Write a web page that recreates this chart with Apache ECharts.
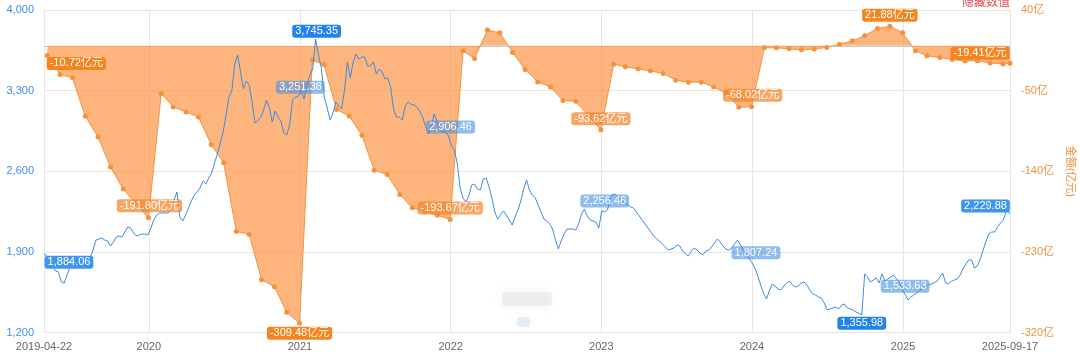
<!DOCTYPE html>
<html><head><meta charset="utf-8">
<script src="https://cdn.jsdelivr.net/npm/echarts@6/dist/echarts.min.js"></script>
<style>html,body{margin:0;padding:0;background:#fff}#c{width:1080px;height:356px}</style>
</head><body><div id="c"></div>
<script>
// ---------- data ----------
const xStart = '2019-04-22';
const xEnd = '2025-09-17';
const leftTicks = [1200, 1900, 2600, 3300, 4000];
const rightTicks = [-320, -230, -140, -50, 40];

// index (blue line), weekly closes starting at xStart
const blueWeeklyStart = '2019-04-22';
const blueValues = [
1884.06,1865,1831,1787,1735,1727,1640,1631,1701,1770,
1787,1796,1814,1822,1831,1848,1857,1917,2004,2013,
2022,2004,1996,1952,1987,2030,2039,2030,2074,2117,
2108,2065,2039,2048,2056,2056,2048,2108,2178,2221,
2239,2239,2239,2239,2291,2351,2421,2204,2169,2221,
2282,2343,2395,2421,2456,2516,2490,2542,2586,2672,
2751,2846,2941,3089,3245,3297,3531,3610,3462,3315,
3384,3349,3202,3019,3037,3071,3132,3219,3150,3028,
3124,3071,3037,2933,2915,3002,3219,3245,3251.38,3297,
3228,3349,3436,3490,3745.35,3610,3492,3245,3150,3045,
3106,3202,3167,3141,3306,3549,3410,3549,3618,3575,
3592,3592,3514,3514,3549,3445,3488,3462,3401,3410,
3323,3132,3071,3071,3045,3167,3202,3184,3176,3158,
3124,3071,2993,2924,2976,3098,3037,2959,2941,2941,
2906.46,2820,2785,2672,2456,2369,2334,2386,2481,2490,
2447,2438,2534,2542,2464,2369,2247,2186,2221,2256,
2221,2178,2134,2204,2265,2343,2447,2525,2438,2395,
2369,2308,2247,2186,2169,2143,2100,2004,1927,1996,
2057,2100,2100,2100,2091,2143,2230,2273,2213,2178,
2169,2160,2108,2256.46,2247,2265,2369,2404,2395,2369,
2343,2326,2308,2291,2282,2247,2213,2178,2143,2108,
2074,2039,2013,1996,1970,1944,1917,1926,1935,1961,
1952,1909,1883,1866,1909,1935,1917,1891,1874,1909,
1917,1944,1978,2013,1987,1952,1926,1917,1935,1970,
2004,1961,1917,1883,1848,1807.24,1761,1692,1614,1544,
1492,1562,1622,1605,1578,1570,1605,1631,1648,1614,
1596,1605,1631,1640,1614,1570,1536,1527,1510,1501,
1458,1397,1406,1414,1423,1406,1440,1449,1414,1406,
1397,1380,1368,1355.98,1710,1680,1640,1657,1674,1631,
1709,1648,1666,1683,1700,1666,1640,1570,1533.63,1484,
1510,1527,1544,1570,1579,1596,1614,1622,1631,1648,
1683,1718,1631,1622,1648,1657,1666,1700,1752,1796,
1831,1831,1761,1779,1840,1917,1996,2057,2074,2074,
2117,2152,2178,2256,2243
];
const blueFinalDate = '2025-09-17';
const blueFinalValue = 2229.88;

// cumulative net flow (亿元), month-end values starting 2019-04
const orangeStartMonth = '2019-04';
const orangeMonthEndValues = [
-10.72,-31.9,-35.7,-78.5,-101.7,-135.2,-159.8,-176.0,-191.80,
-53.1,-68.1,-73.7,-79.3,-110.2,-130.3,-207.1,-210.4,-260.8,-268.6,-297.3,-309.48,
-15.9,-20.7,-71.0,-78.2,-99.8,-138.9,-143.4,-165.7,-180.6,-185.0,-189.0,-193.67,
-5.5,-14.0,17.6,14.6,-7.3,-26.3,-40.2,-45.8,-61.0,-61.8,-78.0,-93.62,
-20.4,-23.4,-25.6,-27.9,-30.8,-38.3,-40.5,-40.5,-45.8,-53.0,-68.5,-68.02,
-2.2,-2.2,-3.3,-4.4,-3.6,-1.7,1.7,5.7,11.3,19.5,21.88,14.6,
-5.5,-11.1,-12.9,-15.1,-17.0,-16.7,-19.0,-20.2
];
const orangeFinalDate = '2025-09-17';
const orangeFinalValue = -19.41;

const blueLabelValues = [1884.06, 3251.38, 3745.35, 2906.46, 2256.46, 1807.24, 1355.98, 1533.63, 2229.88];
const orangeLabelValues = [-10.72, -191.80, -309.48, -193.67, -93.62, -68.02, 21.88, -19.41];

// ---------- label layout (styles / offsets, not data) ----------
const blueLabelLayout = [
  {kind:'edge', off:[25,8.5]}, {kind:'light', off:[2,-9]}, {kind:'solid', off:[1,-8]},
  {kind:'light', off:[2,-9]}, {kind:'light', off:[3,-10]}, {kind:'light', off:[4,-10]},
  {kind:'solid', off:[0,8.5]}, {kind:'light', off:[0,-8]}, {kind:'edge', off:[-24.5,-8]}
];
const orangeLabelLayout = [
  {kind:'solid', off:[29,8]}, {kind:'light', off:[1,-12]}, {kind:'solid', off:[0,10]},
  {kind:'light', off:[0,-11.5]}, {kind:'light', off:[0,-11]}, {kind:'light', off:[1,-11.5]},
  {kind:'solid', off:[0,-11]}, {kind:'solid', off:[-30,-10]}
];
const blueBg = {solid:'#2283ec', edge:'#3f95f2', light:'rgba(70,145,230,0.6)'};
const orangeBg = {solid:'#f5861f', light:'rgba(244,138,50,0.75)'};

// ---------- build ----------
function parseD(s){const p=s.split('-').map(Number);return new Date(p[0],p[1]-1,p[2]||1);}
const bs = parseD(blueWeeklyStart);
const blueData = blueValues.map((v,i)=>[new Date(bs.getFullYear(),bs.getMonth(),bs.getDate()+7*i).getTime(), v]);
blueData.push([parseD(blueFinalDate).getTime(), blueFinalValue]);
const om = parseD(orangeStartMonth);
const orangeData = orangeMonthEndValues.map((v,k)=>[new Date(om.getFullYear(), om.getMonth()+k+1, 0).getTime(), v]);
orangeData.push([parseD(orangeFinalDate).getTime(), orangeFinalValue]);

const FONT = '"Liberation Sans", Arial, "Noto Sans CJK SC", sans-serif';
const fmtBlue = v => v.toLocaleString('en-US',{minimumFractionDigits:2, maximumFractionDigits:2});
const fmtOrange = v => v.toFixed(2) + '亿元';

function marks(data, values, layout, bgs, fmt){
  return values.map((val,j)=>{
    const pt = data.find(d=>d[1]===val);
    const L = layout[j];
    return {coord: pt, value: val, symbol:'circle', symbolSize:0,
      label:{show:true, position:'inside', offset:L.off, formatter: ()=>fmt(val),
        backgroundColor:bgs[L.kind], color:'#fff', borderRadius:3, padding:[1,3,0,3],
        fontSize:11, lineHeight:12, fontFamily:FONT}};
  });
}

const xMin = parseD(xStart).getTime(), xMax = parseD(xEnd).getTime();
function pad(n){return n<10?'0'+n:''+n;}
const YEAR = 365*24*3600*1000;

const chart = echarts.init(document.getElementById('c'), null, {renderer:'canvas'});
chart.setOption({
  animation:false,
  backgroundColor:'#fff',
  grid:{left:44, right:70, top:10, bottom:23.3, containLabel:false, outerBoundsMode:'none'},
  xAxis:{type:'time', min:xMin, max:xMax, splitNumber:7, minInterval:YEAR, maxInterval:YEAR+2*86400000,
    axisLine:{show:true, lineStyle:{color:'#cccccc'}}, axisTick:{show:false},
    splitLine:{show:true, lineStyle:{color:'#e6e6e6'}},
    axisLabel:{color:'#666', fontSize:11, fontFamily:FONT, margin:9, showMinLabel:true, showMaxLabel:true, hideOverlap:false,
      formatter:function(v){const d=new Date(v);
        if (Math.abs(v-xMin)<43200000 || Math.abs(v-xMax)<43200000) return d.getFullYear()+'-'+pad(d.getMonth()+1)+'-'+pad(d.getDate());
        if (d.getMonth()===0 && d.getDate()===1) return ''+d.getFullYear();
        return '';}}
  },
  yAxis:[
    {type:'value', min:leftTicks[0], max:leftTicks[leftTicks.length-1], interval:leftTicks[1]-leftTicks[0], position:'left',
      axisLine:{show:false}, axisTick:{show:false},
      splitLine:{show:true, lineStyle:{color:'#e6e6e6'}},
      axisLabel:{color:'#3b8ef0', fontSize:11, fontFamily:FONT, margin:10, formatter:v=>v.toLocaleString('en-US')}},
    {type:'value', min:rightTicks[0], max:rightTicks[rightTicks.length-1], interval:rightTicks[1]-rightTicks[0], position:'right',
      axisLine:{show:false}, axisTick:{show:false}, splitLine:{show:false},
      axisLabel:{color:'#f0913c', fontSize:11, fontFamily:FONT, margin:11, formatter:v=>v+'亿'},
      name:'金额(亿元)', nameLocation:'middle', nameRotate:-90, nameGap:48,
      nameTextStyle:{color:'#f0913c', fontSize:11, fontFamily:FONT}}
  ],
  series:[
    {type:'line', yAxisIndex:1, data:orangeData, symbol:'circle', symbolSize:5, showSymbol:true,
      lineStyle:{color:'#f5923e', width:1}, itemStyle:{color:'#f5923e'},
      areaStyle:{color:'rgba(252,150,70,0.7)', opacity:1, origin:0}, z:2,
      markPoint:{symbol:'circle', symbolSize:0, data:marks(orangeData, orangeLabelValues, orangeLabelLayout, orangeBg, fmtOrange), z:5}},
    {type:'line', yAxisIndex:0, data:blueData, showSymbol:false, symbol:'none',
      lineStyle:{color:'#3a8ce4', width:1}, itemStyle:{color:'#3a8ce4'}, z:3,
      markPoint:{symbol:'circle', symbolSize:0, data:marks(blueData, blueLabelValues, blueLabelLayout, blueBg, fmtBlue), z:6}}
  ],
  graphic:[
    {type:'text', right:70, top:-5, style:{text:'隐藏数值', fill:'#e5484d', font:'12px "Noto Sans CJK SC", sans-serif'}},
    {type:'rect', left:502, top:292, shape:{width:50, height:14, r:3}, style:{fill:'rgba(215,215,215,0.3)', shadowBlur:10, shadowColor:'rgba(200,200,200,0.7)'}},
    {type:'rect', left:517, top:317, shape:{width:13, height:10, r:2}, style:{fill:'rgba(185,210,240,0.3)', shadowBlur:8, shadowColor:'rgba(175,205,240,0.6)'}}
  ]
});
</script></body></html>
